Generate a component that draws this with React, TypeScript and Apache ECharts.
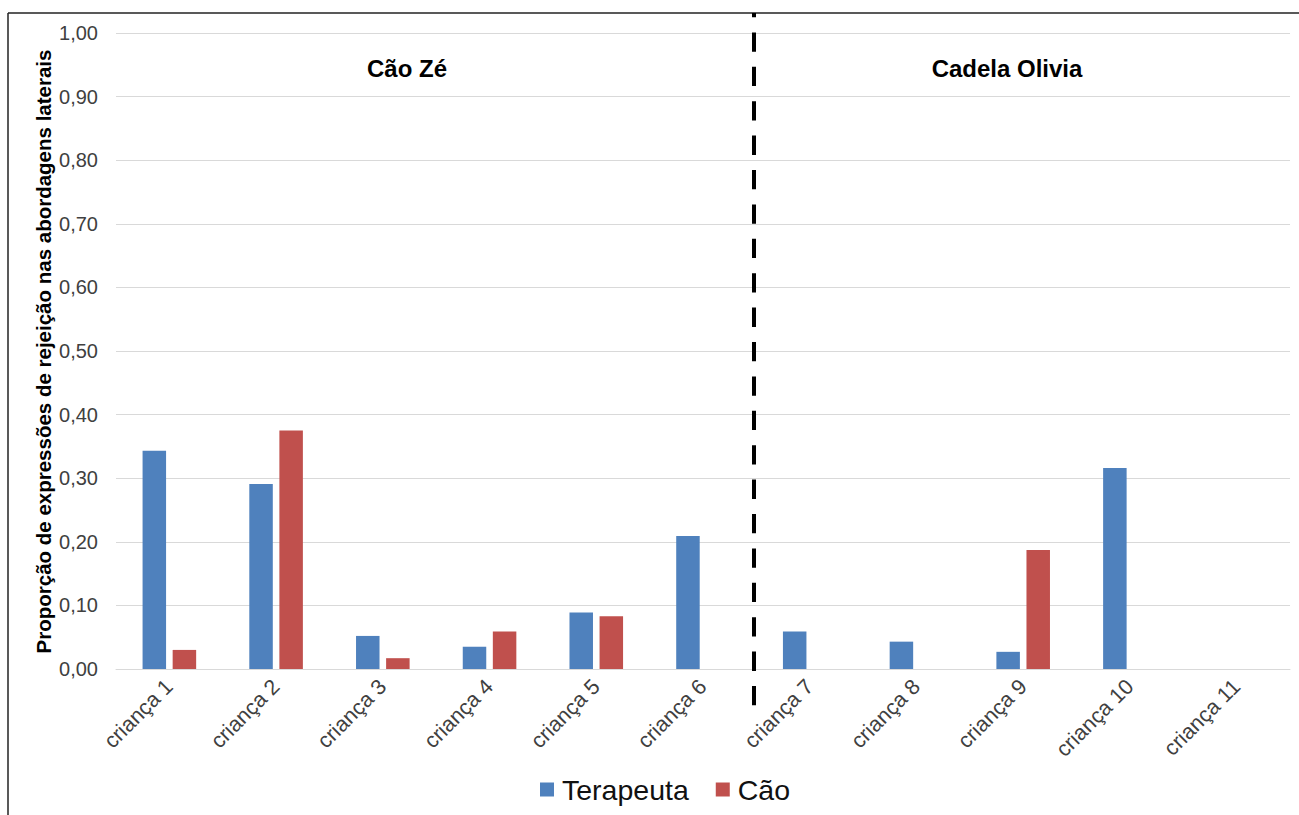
import React, { useEffect, useRef } from "react";
import * as echarts from "echarts";

// Children and the proportion of rejection expressions per agent
const categories = [
  "criança 1", "criança 2", "criança 3", "criança 4", "criança 5", "criança 6",
  "criança 7", "criança 8", "criança 9", "criança 10", "criança 11",
];
const terapeuta = [0.343, 0.291, 0.052, 0.035, 0.089, 0.209, 0.059, 0.043, 0.027, 0.316, 0];
const cao = [0.030, 0.375, 0.017, 0.059, 0.083, 0, 0, 0, 0.187, 0, 0];
const seriesNames = ["Terapeuta", "Cão"];
const groupTitles = ["Cão Zé", "Cadela Olivia"];
const yTitle = "Proporção de expressões de rejeição nas abordagens laterais";

const FONT = "'Liberation Sans', Arial, Helvetica, sans-serif";
const BLUE = "#4F81BD";
const RED = "#C0504D";

export default function App() {
  const ref = useRef<HTMLDivElement>(null);

  useEffect(() => {
    if (!ref.current) return;
    const chart = echarts.init(ref.current, undefined, { renderer: "svg" });
    chart.setOption({
      animation: false,
      backgroundColor: "#ffffff",
      textStyle: { fontFamily: FONT },
      grid: { left: 116, right: 9, top: 33, bottom: 146, containLabel: false },
      legend: {
        data: seriesNames,
        left: 535,
        top: 770,
        icon: "rect",
        itemWidth: 14,
        itemHeight: 14,
        itemGap: 27,
        textStyle: { fontSize: 28.5, color: "#111", fontFamily: FONT, padding: [0, 0, 0, 3] },
      },
      xAxis: {
        type: "category",
        data: categories,
        axisLine: { lineStyle: { color: "#D9D9D9", width: 1 } },
        axisTick: { show: false },
        axisLabel: {
          rotate: 45,
          fontSize: 21.5,
          color: "#404040",
          margin: 14,
          fontFamily: FONT,
          interval: 0,
        },
      },
      yAxis: {
        type: "value",
        min: 0,
        max: 1,
        interval: 0.1,
        axisLine: { show: false },
        axisTick: { show: false },
        splitLine: { lineStyle: { color: "#D9D9D9", width: 1 } },
        axisLabel: {
          fontSize: 20,
          color: "#404040",
          margin: 18,
          fontFamily: FONT,
          formatter: (v: number) => v.toFixed(2).replace(".", ","),
        },
      },
      series: [
        {
          name: seriesNames[0],
          type: "bar",
          data: terapeuta,
          barWidth: 23.5,
          barGap: "28%",
          itemStyle: { color: BLUE },
        },
        {
          name: seriesNames[1],
          type: "bar",
          data: cao,
          barWidth: 23.5,
          barGap: "28%",
          itemStyle: { color: RED },
        },
      ],
      graphic: [
        // outer frame (top and left edges)
        {
          type: "line",
          shape: { x1: 8, y1: 13, x2: 1299, y2: 13 },
          style: { stroke: "#222", lineWidth: 1.5 },
          z: 10,
        },
        {
          type: "line",
          shape: { x1: 8, y1: 13, x2: 8, y2: 815 },
          style: { stroke: "#222", lineWidth: 1.5 },
          z: 10,
        },
        // separator between the two dog groups
        {
          type: "line",
          shape: { x1: 754, y1: 13, x2: 754, y2: 707 },
          style: { stroke: "#000", lineWidth: 4, lineDash: [19.3, 15.1], lineDashOffset: 15.3 },
          z: 10,
        },
        {
          type: "text",
          x: 407,
          y: 68,
          style: {
            text: groupTitles[0],
            font: `bold 24px ${FONT}`,
            fill: "#000",
            align: "center",
            verticalAlign: "middle",
          },
        },
        {
          type: "text",
          x: 1007,
          y: 68,
          style: {
            text: groupTitles[1],
            font: `bold 24px ${FONT}`,
            fill: "#000",
            align: "center",
            verticalAlign: "middle",
          },
        },
        {
          type: "text",
          x: 43,
          y: 351.5,
          rotation: Math.PI / 2,
          style: {
            text: yTitle,
            font: `bold 20.5px ${FONT}`,
            fill: "#000",
            align: "center",
            verticalAlign: "middle",
          },
        },
      ],
    });
    return () => chart.dispose();
  }, []);

  return (
    <div
      ref={ref}
      style={{ position: "fixed", left: 0, top: 0, width: 1299, height: 815, background: "#fff" }}
    />
  );
}
